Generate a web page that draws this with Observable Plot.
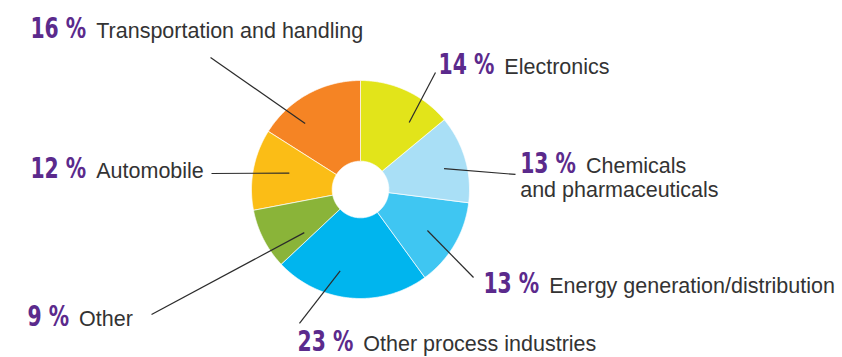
<!DOCTYPE html>
<html><head><meta charset="utf-8">
<script src="https://cdn.jsdelivr.net/npm/d3@7"></script>
<script src="https://cdn.jsdelivr.net/npm/@observablehq/plot@0.6"></script>
<style>
html,body{margin:0;padding:0;background:#fff;}
#chart svg{display:block;}
</style></head><body><div id="chart"></div>
<script>
// ---- data (clockwise from 12 o'clock) ----
const categories = ["Electronics", "Chemicals and pharmaceuticals", "Energy generation/distribution", "Other process industries", "Other", "Automobile", "Transportation and handling"];
const labelText = ["Electronics", "Chemicals\nand pharmaceuticals", "Energy generation/distribution", "Other process industries", "Other", "Automobile", "Transportation and handling"];
const shares = [14, 13, 13, 23, 9, 12, 16];
const colors = ["#e2e41a", "#a9dff6", "#3fc6f2", "#00b5ee", "#8ab439", "#fbbd16", "#f58424"];

// ---- layout (pie units: outer radius = 1, centre = 0,0) ----
const innerRadius = 0.26;
const leaderAngle = [36, 76, 121.5, 194, 232.5, 283, 320];
const leaderRadius = [0.76, 0.79, 0.72, 0.77, 0.65, 0.67, 0.79];
const leaderEndX = [0.688, 1.422, 1.037, -0.560, -1.917, -1.367, -1.376];
const leaderEndY = [1.073, 0.138, -0.807, -1.229, -1.147, 0.147, 1.211];
const labelX = [0.716, 1.465, 1.128, -0.578, -3.055, -3.028, -3.028];
const labelY = [1.064, -0.073, -0.954, -1.486, -1.248, 0.101, 1.394];

const purple = "#5b2a8c";
const rad = Math.PI / 180;

// slice polygons from the values
const total = d3.sum(shares);
const slices = [];
let acc = 0;
categories.forEach((name, i) => {
  const a0 = acc / total * 360, a1 = (acc + shares[i]) / total * 360;
  acc += shares[i];
  const n = Math.max(2, Math.ceil((a1 - a0) / 0.5));
  for (let k = 0; k <= n; k++) {
    const a = (a0 + (a1 - a0) * k / n) * rad;
    slices.push({name, x: Math.sin(a), y: Math.cos(a)});
  }
  for (let k = n; k >= 0; k--) {
    const a = (a0 + (a1 - a0) * k / n) * rad;
    slices.push({name, x: innerRadius * Math.sin(a), y: innerRadius * Math.cos(a)});
  }
});

const leaders = categories.map((name, i) => ({
  name,
  x1: leaderRadius[i] * Math.sin(leaderAngle[i] * rad),
  y1: leaderRadius[i] * Math.cos(leaderAngle[i] * rad),
  x2: leaderEndX[i], y2: leaderEndY[i]
}));

const labels = categories.map((name, i) => ({
  name, x: labelX[i], y: labelY[i], text: `${shares[i]} % ${labelText[i]}`
}));

const W = 842, H = 357, R = 109, CX = 360, CY = 189;

const svg = Plot.plot({
  width: W, height: H, margin: 0,
  x: {domain: [-CX / R, (W - CX) / R], axis: null},
  y: {domain: [-(H - CY) / R, CY / R], axis: null},
  color: {domain: categories, range: colors},
  style: {background: "#fff", overflow: "visible"},
  marks: [
    Plot.line(slices, {x: "x", y: "y", z: "name", fill: "name", stroke: "#ffffff", strokeWidth: 0.7, curve: "linear-closed"}),
    Plot.link(leaders, {x1: "x1", y1: "y1", x2: "x2", y2: "y2", stroke: "#2b2b2b", strokeWidth: 1.2}),
    Plot.text(labels, {x: "x", y: "y", text: "text", textAnchor: "start", lineAnchor: "bottom", lineHeight: 1.12,
      fontSize: 21.5, fontFamily: "'Liberation Sans', Arial, sans-serif", fill: "#333333"})
  ]
});

document.getElementById("chart").append(svg);

// style the percentage part of each label
const ns = "http://www.w3.org/2000/svg";
d3.select(svg).selectAll("text").each(function() {
  const first = this.querySelector("tspan") || this;
  const m = first.textContent.match(/^(\d+ %) (.*)$/);
  if (!m) return;
  first.textContent = "";
  const a = document.createElementNS(ns, "tspan");
  a.textContent = m[1];
  a.setAttribute("fill", purple);
  a.setAttribute("font-weight", "bold");
  a.setAttribute("font-size", "29");
  a.setAttribute("font-family", "'DejaVu Sans Condensed', 'DejaVu Sans', sans-serif");
  const b = document.createElementNS(ns, "tspan");
  b.setAttribute("dx", "10");
  b.textContent = m[2];
  first.append(a, b);
  const len = a.getComputedTextLength();
  a.setAttribute("textLength", (len * 0.78).toFixed(1));
  a.setAttribute("lengthAdjust", "spacingAndGlyphs");
});
</script>
</body></html>
